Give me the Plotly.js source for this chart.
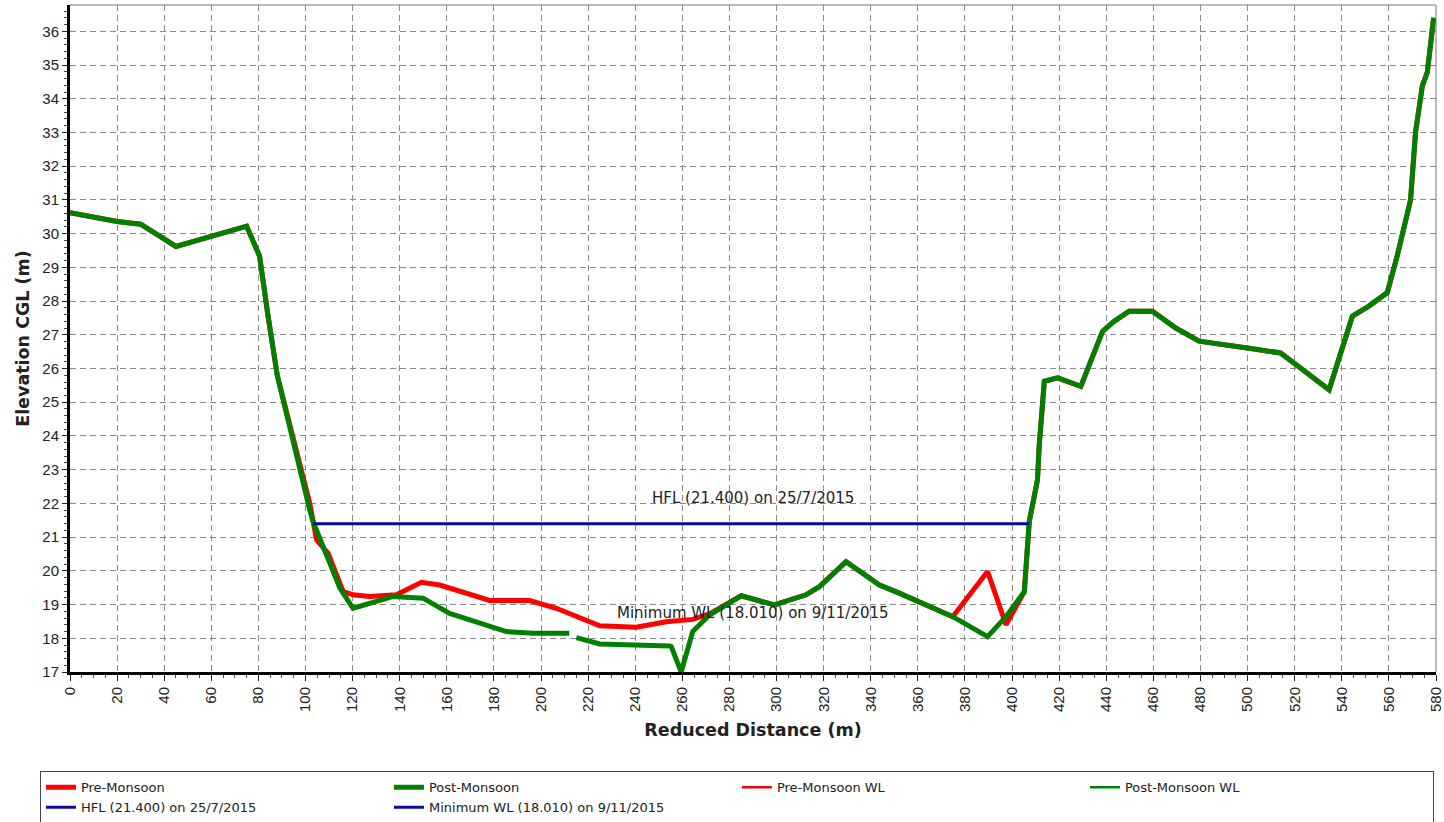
<!DOCTYPE html>
<html>
<head>
<meta charset="utf-8">
<script src="https://cdn.plot.ly/plotly-3.0.1.min.js"></script>
<style>
html,body{margin:0;padding:0;background:#fff;}
#chart{width:1444px;height:822px;}
</style>
</head>
<body>
<div id="chart"></div>
<script>
// Reduced distance (m) and elevation (m)
const preX = [0, 20, 30, 45, 75, 80.5, 84, 88, 101.8, 104.7, 109.6, 116, 120.2, 127.3, 138.6, 149.2, 157, 166.9, 178.2, 195.2, 206.5, 224.9, 240.4, 253.2, 264.4, 271.5, 285, 299.1, 312.5, 318.2, 329.5, 343.7, 352.1, 374.8, 389.6, 397.4, 405.2, 407.3, 410.8, 411.5, 413.7, 419.3, 429.2, 438.4, 443.3, 449.7, 459.6, 469.5, 479.4, 499.9, 514, 523.3, 534.6, 544.5, 551.5, 559.3, 563.5, 569.2, 571.3, 574.2, 576.3, 579];
const preY = [30.62, 30.36, 30.28, 29.62, 30.22, 29.33, 27.6, 25.8, 22.0, 20.92, 20.52, 19.38, 19.29, 19.24, 19.29, 19.66, 19.58, 19.38, 19.12, 19.12, 18.89, 18.37, 18.33, 18.49, 18.56, 18.72, 19.26, 18.99, 19.29, 19.53, 20.27, 19.58, 19.34, 18.64, 19.98, 18.40, 19.38, 21.46, 22.7, 23.69, 25.62, 25.72, 25.47, 27.1, 27.4, 27.7, 27.7, 27.2, 26.81, 26.61, 26.46, 25.97, 25.37, 27.55, 27.85, 28.25, 29.33, 31.0, 33.0, 34.38, 34.78, 36.4];

const postX = [0, 20, 30, 45, 75, 80.5, 84, 88, 101.8, 103.2, 114.6, 120.2, 137.2, 149.9, 161.2, 176.8, 185.3, 196.6, 212.0, null, 215.0, 224.9, 254.6, 255.3, 259.5, 264.4, 271.5, 285, 299.1, 312.5, 318.2, 329.5, 343.7, 352.1, 374.8, 389.6, 397.4, 405.2, 407.3, 410.8, 411.5, 413.7, 419.3, 429.2, 438.4, 443.3, 449.7, 459.6, 469.5, 479.4, 499.9, 514, 523.3, 534.6, 544.5, 551.5, 559.3, 563.5, 569.2, 571.3, 574.2, 576.3, 579];
const postY = [30.62, 30.36, 30.28, 29.62, 30.22, 29.33, 27.6, 25.8, 21.8, 21.46, 19.49, 18.89, 19.24, 19.19, 18.74, 18.40, 18.2, 18.15, 18.15, null, 18.02, 17.83, 17.77, 17.75, 17.0, 18.2, 18.69, 19.26, 18.99, 19.29, 19.53, 20.27, 19.58, 19.34, 18.64, 18.05, 18.64, 19.38, 21.46, 22.7, 23.69, 25.62, 25.72, 25.47, 27.1, 27.4, 27.7, 27.7, 27.2, 26.81, 26.61, 26.46, 25.97, 25.37, 27.55, 27.85, 28.25, 29.33, 31.0, 33.0, 34.38, 34.78, 36.4];

const preWLX = [null];
const preWLY = [null];
const postWLX = [389.3, 390.3];
const postWLY = [18.01, 18.01];

const hflX = [103.2, 407.3];
const hflY = [21.4, 21.4];
const minWLX = [null];
const minWLY = [null];

const hflLabel = 'HFL (21.400) on 25/7/2015';
const minWLLabel = 'Minimum WL (18.010) on 9/11/2015';
const xTicks = [];
for (let v = 0; v <= 580; v += 20) xTicks.push(v);
const yTicks = [];
for (let v = 17; v <= 36; v += 1) yTicks.push(v);

const font = 'Liberation Sans, Arial, sans-serif';
const font2 = 'DejaVu Sans, Verdana, sans-serif';

const traces = [
  {x: preX, y: preY, mode: 'lines', name: 'Pre-Monsoon', line: {color: '#ff0000', width: 5}},
  {x: postX, y: postY, mode: 'lines', name: 'Post-Monsoon', line: {color: '#008000', width: 5}, connectgaps: false},
  {x: preWLX, y: preWLY, mode: 'lines', name: 'Pre-Monsoon WL', line: {color: '#ff0000', width: 2.5}},
  {x: postWLX, y: postWLY, mode: 'lines', name: 'Post-Monsoon WL', line: {color: '#008000', width: 2.5}},
  {x: hflX, y: hflY, mode: 'lines', name: hflLabel, line: {color: '#0a0a9e', width: 3}},
  {x: minWLX, y: minWLY, mode: 'lines', name: minWLLabel, line: {color: '#0a0a9e', width: 3}}
];

const gridStyle = {gridcolor: '#8a8a8a', gridwidth: 1, griddash: '6px,4px'};

const layout = {
  width: 1444, height: 822,
  paper_bgcolor: '#ffffff', plot_bgcolor: '#ffffff',
  margin: {l: 70, r: 8, t: 5, b: 150, autoexpand: false},
  font: {family: font, color: '#222'},
  showlegend: true,
  xaxis: Object.assign({
    range: [0, 580], tickvals: xTicks, ticktext: xTicks.map(String),
    tickangle: -90, tickfont: {size: 15, color: '#222', family: font},
    ticks: 'outside', ticklen: 6, tickcolor: '#222', tickwidth: 1,
    showline: true, linecolor: '#000', linewidth: 3, zeroline: false,
    minor: {dtick: 5, ticks: 'outside', ticklen: 3, tickcolor: '#444', showgrid: false},
    title: {text: 'Reduced Distance (m)', font: {size: 17.5, color: '#222', family: font2, weight: 'bold'}, standoff: 13},
    automargin: false, fixedrange: true
  }, gridStyle),
  yaxis: Object.assign({
    range: [17, 36.78], tickvals: yTicks, ticktext: yTicks.map(String),
    tickfont: {size: 15, color: '#222', family: font},
    ticks: 'outside', ticklen: 5, tickcolor: '#222', tickwidth: 1,
    showline: true, linecolor: '#000', linewidth: 3, zeroline: false,
    minor: {dtick: 0.2, ticks: 'outside', ticklen: 3, tickcolor: '#444', showgrid: false},
    title: {text: 'Elevation CGL (m)', font: {size: 17.5, color: '#222', family: font2, weight: 'bold'}, standoff: 9},
    automargin: false, fixedrange: true
  }, gridStyle),
  shapes: [
    {type: 'line', xref: 'paper', yref: 'paper', x0: 0, x1: 1, y0: 1, y1: 1, line: {color: '#777', width: 1}},
    {type: 'line', xref: 'paper', yref: 'paper', x0: 1, x1: 1, y0: 0, y1: 1, line: {color: '#777', width: 1}}
  ],
  annotations: [
    {xref: 'paper', yref: 'y', x: 0.5, y: 22.17, text: hflLabel, showarrow: false, font: {size: 15, color: '#222', family: font2}},
    {xref: 'paper', yref: 'y', x: 0.5, y: 18.75, text: minWLLabel, showarrow: false, font: {size: 15, color: '#222', family: font2}}
  ],
  legend: {
    orientation: 'h', x: -0.022, xanchor: 'left', y: -0.149, yanchor: 'top',
    bordercolor: '#444', borderwidth: 1, bgcolor: '#fff',
    font: {size: 13, color: '#222', family: font2},
    entrywidth: 303, entrywidthmode: 'pixels', tracegroupgap: 0, itemwidth: 30
  }
};

Plotly.newPlot('chart', traces, layout, {displayModeBar: false, staticPlot: true});
</script>
</body>
</html>
